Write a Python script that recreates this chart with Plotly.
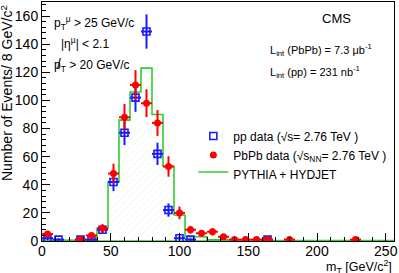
import plotly.graph_objects as go

# ---- data ----
bin_edges = [0, 8, 16, 24, 32, 40, 48, 56, 64, 72, 80, 88, 96, 104, 112, 120, 128,
             136, 144, 152, 160, 168, 176, 184, 192, 200, 208, 216, 224, 232, 240, 248, 256]
mc_values = [0.6, 0.3, 0.3, 0.3, 0.5, 9, 42, 86, 106, 123, 90, 53, 18.5, 3, 3, 1, 1,
             0.5, 0.5, 0.3, 0.3, 0.3, 0.3, 0.3, 0.3, 0.3, 0.3, 0.3, 0.3, 0.3, 0.3, 0.3]

pp_x = [4, 12, 28, 36, 44, 52, 60, 68, 76, 84, 92, 100, 108, 164]
pp_y = [2, 1, 1, 1, 8, 42, 77, 102, 149, 62, 22, 2, 1, 1]
pp_err = [1.4, 1, 1, 1, 2.8, 6.5, 8.8, 10.1, 12.2, 7.9, 4.7, 1.4, 1, 1]

pbpb_x = [4, 28, 36, 44, 52, 60, 68, 76, 84, 92, 100, 108, 116, 124, 132, 140, 148, 156, 164, 180, 228]
pbpb_y = [5, 1, 4, 9, 48, 88, 111, 98, 84, 53, 20, 8, 5.5, 6.6, 3, 1, 1, 1, 1, 1, 1]
pbpb_err = [2.2, 1, 2, 3, 7, 9.4, 10.5, 9.9, 9.2, 7.3, 4.5, 2.8, 2.3, 2.6, 1.7, 1, 1, 1, 1, 1, 1]

half_bin = 4

FONT = "Liberation Sans, Arial, sans-serif"

# closed step polygon of the histogram (built from the arrays above)
hx, hy = [], []
for i, v in enumerate(mc_values):
    hx += [bin_edges[i], bin_edges[i + 1]]
    hy += [v, v]
hx += [bin_edges[-1], bin_edges[0]]
hy += [0, 0]

fig = go.Figure()

fig.add_trace(go.Scatter(
    x=hx, y=hy,
    mode="lines", line=dict(color="#33cc33", width=1.6),
    fill="toself", fillcolor="rgba(225,245,225,0.35)",
    fillpattern=dict(shape="/", fgcolor="#c4ecc4", bgcolor="rgba(255,255,255,0)", size=5, solidity=0.15),
    name="PYTHIA + HYDJET", legendrank=3,
))

fig.add_trace(go.Scatter(
    x=pp_x, y=pp_y, mode="markers",
    marker=dict(symbol="square-open", size=7, color="#1a1aff", line=dict(width=1.6)),
    error_y=dict(type="data", array=pp_err, color="#1a1aff", thickness=2, width=0),
    error_x=dict(type="constant", value=half_bin, color="#1a1aff", thickness=2, width=0),
    name="pp data (√s= 2.76 TeV )", legendrank=1,
))

fig.add_trace(go.Scatter(
    x=pbpb_x, y=pbpb_y, mode="markers",
    marker=dict(symbol="circle", size=7, color="#ff0000"),
    error_y=dict(type="data", array=pbpb_err, color="#ff0000", thickness=2, width=0),
    error_x=dict(type="constant", value=half_bin, color="#ff0000", thickness=2, width=0),
    name="PbPb data (√s<sub>NN</sub>= 2.76 TeV )", legendrank=2,
))

annots = [
    dict(x=7.5, y=155, text="p<sub>T</sub><sup>μ</sup> > 25 GeV/c", xanchor="left", size=12),
    dict(x=12, y=141, text="|η<sup>μ</sup>| < 2.1", xanchor="left", size=12),
    dict(x=7.5, y=124.5, text="p<sub>T</sub> > 20 GeV/c", xanchor="left", size=12),
    dict(x=214, y=158.6, text="CMS", xanchor="center", size=13),
    dict(x=164, y=136, text="L<sub>int</sub> (PbPb) = 7.3 μb<sup>-1</sup>", xanchor="left", size=11),
    dict(x=164, y=120, text="L<sub>int</sub> (pp) = 231 nb<sup>-1</sup>", xanchor="left", size=11),
]
for a in annots:
    fig.add_annotation(x=a["x"], y=a["y"], xref="x", yref="y", text=a["text"],
                       showarrow=False, xanchor=a["xanchor"], yanchor="middle",
                       font=dict(family=FONT, size=a["size"], color="black"))

# slash over the "p" of the missing-pT label
fig.add_annotation(x=12.3, y=126, xref="x", yref="y", text="/", showarrow=False,
                   xanchor="center", yanchor="middle",
                   font=dict(family=FONT, size=14, color="black"))

fig.add_annotation(x=-0.1, y=0.995, xref="paper", yref="paper",
                   text="Number of Events/ 8 GeV/c<sup>2</sup>", textangle=-90,
                   showarrow=False, xanchor="center", yanchor="top",
                   font=dict(family=FONT, size=14, color="black"))
fig.add_annotation(x=1.0, y=-0.062, xref="paper", yref="paper",
                   text="m<sub>T</sub> [GeV/c<sup>2</sup>]",
                   showarrow=False, xanchor="right", yanchor="top",
                   font=dict(family=FONT, size=12.5, color="black"))

axis_common = dict(showline=True, linecolor="black", linewidth=1, mirror=True,
                   ticks="inside", tickcolor="black", ticklen=8, tickwidth=1,
                   showgrid=False, zeroline=False,
                   tickfont=dict(family=FONT, size=14, color="black"))

fig.update_xaxes(range=[0, 256], dtick=50, tick0=0, ticklabelstandoff=-3,
                 minor=dict(dtick=10, ticks="inside", ticklen=4, tickcolor="black"),
                 **axis_common)
fig.update_yaxes(range=[0, 170], dtick=20, tick0=0,
                 minor=dict(dtick=4, ticks="inside", ticklen=4, tickcolor="black"),
                 **axis_common)

fig.update_layout(
    width=399, height=273,
    margin=dict(l=42, r=5, t=2, b=32),
    paper_bgcolor="white", plot_bgcolor="white",
    showlegend=True,
    legend=dict(x=0.43, y=0.5, xanchor="left", yanchor="top",
                bgcolor="rgba(0,0,0,0)", font=dict(family=FONT, size=12, color="black"),
                tracegroupgap=0, itemsizing="trace", itemwidth=30),
    font=dict(family=FONT),
)

fig.write_html("out.html", config={"displayModeBar": False},
               post_script="document.body.style.margin='0';document.body.style.overflow='hidden';")
